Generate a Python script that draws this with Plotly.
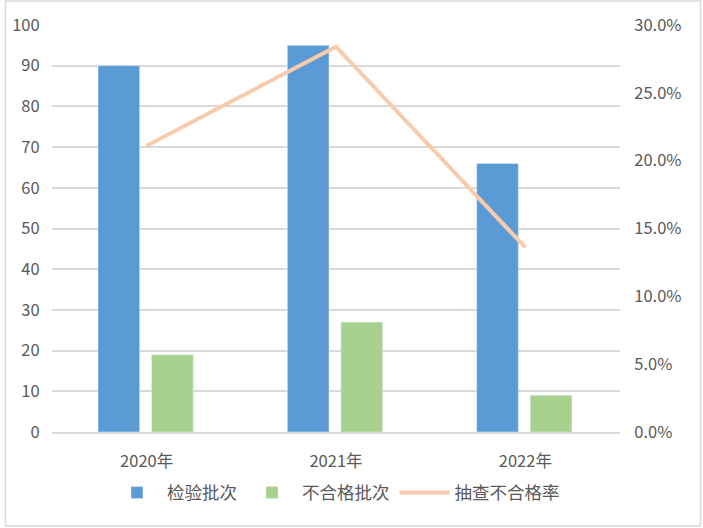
import plotly.graph_objects as go

# -------------------------------
# Dados
# -------------------------------
anos = ["2020年", "2021年", "2022年"]
inspecionados = [90, 95, 66]
nao_conformes = [19, 27, 9]
taxa = [0.211, 0.284, 0.136]

fonte = "Noto Sans CJK SC"
cinza_txt = "#595959"
cinza_grade = "#D9D9D9"

fig = go.Figure()

# barras posicionadas como no Excel (largura/offset em fração da categoria)
fig.add_trace(go.Bar(x=anos, y=inspecionados, name="检验批次", marker_color="#5B9BD5",
                     width=0.22, offset=-0.257))
fig.add_trace(go.Bar(x=anos, y=nao_conformes, name="不合格批次", marker_color="#A9D18E",
                     width=0.22, offset=0.026))
fig.add_trace(go.Scatter(x=anos, y=taxa, name="抽查不合格率", mode="lines",
                         line=dict(color="#F8CBAD", width=4), yaxis="y2"))

# moldura externa
fig.add_shape(type="rect", xref="paper", yref="paper",
              x0=-0.082, x1=1.1416, y0=-0.231, y1=1.059,
              line=dict(color=cinza_grade, width=1.5), layer="below")

fig.update_layout(
    width=703, height=528,
    margin=dict(l=48, r=83, t=25, b=96),
    plot_bgcolor="white", paper_bgcolor="white",
    font=dict(family=fonte, size=16.5, color=cinza_txt),
    barmode="overlay",
    xaxis=dict(showline=True, linecolor=cinza_grade, linewidth=1.5,
               ticks="outside", ticklen=13, tickcolor="rgba(0,0,0,0)"),
    yaxis=dict(range=[0, 100], dtick=10, showgrid=True, gridcolor=cinza_grade,
               gridwidth=1.5, zeroline=False, ticks="outside", ticklen=8,
               tickcolor="rgba(0,0,0,0)"),
    yaxis2=dict(range=[0, 0.30], dtick=0.05, tickformat=".1%", overlaying="y",
                side="right", showgrid=False, zeroline=False, ticks="outside",
                ticklen=10, tickcolor="rgba(0,0,0,0)"),
    legend=dict(orientation="h", x=0.5, xanchor="center", y=-0.105, yanchor="top",
                itemwidth=50, font=dict(size=17.5, color=cinza_txt)),
)

# tira a margem padrão do body para a figura começar no canto da janela
fig.write_html("out.html", config={"displayModeBar": False},
               post_script="document.body.style.margin='0';")
